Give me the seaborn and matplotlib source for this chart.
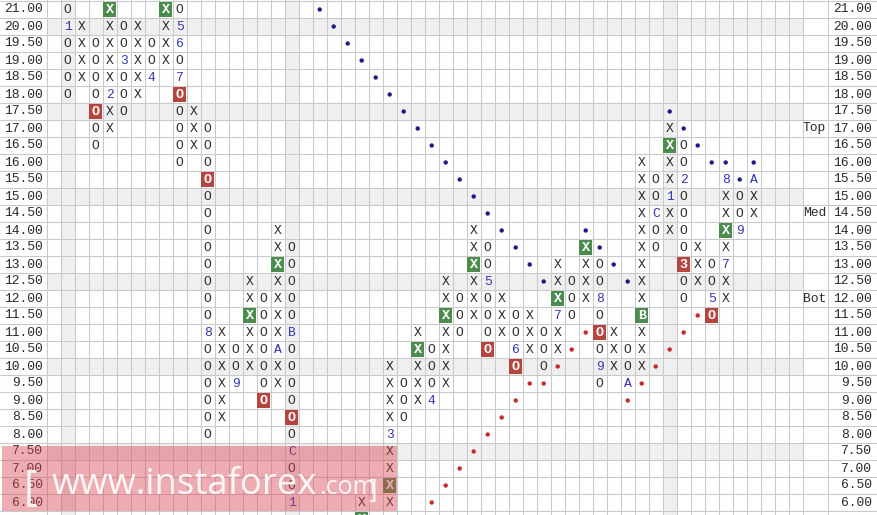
import matplotlib
matplotlib.use("Agg")
import matplotlib.pyplot as plt
import seaborn as sns
import pandas as pd
from matplotlib.patches import Rectangle

# ==========================================
# DATA  (point & figure chart)
# ==========================================

# price rows, top to bottom (last one is only partly visible)
prices = [21.0, 20.0, 19.5, 19.0, 18.5, 18.0, 17.5, 17.0, 16.5, 16.0,
          15.5, 15.0, 14.5, 14.0, 13.5, 13.0, 12.5, 12.0, 11.5, 11.0,
          10.5, 10.0, 9.5, 9.0, 8.5, 8.0, 7.5, 7.0, 6.5, 6.0, 5.5]

# each column: (column number, top price, symbols downward)
columns = [
    (1, 21.0, "O1OOOO"),
    (2, 20.0, "XXXX"),
    (3, 19.5, "OOOOOOO"),
    (4, 21.0, "XXXXX2XX"),
    (5, 20.0, "OO3OOO"),
    (6, 20.0, "XXXXX"),
    (7, 19.5, "OO4"),
    (8, 21.0, "XXXX"),
    (9, 21.0, "O56O7OOOOO"),
    (10, 17.5, "XXX"),
    (11, 17.0, "OOOOOOOOOOOO8OOOOOO"),
    (12, 11.0, "XXXXXX"),
    (13, 10.5, "OO9"),
    (14, 12.5, "XXXXXX"),
    (15, 12.0, "OOOOOOO"),
    (16, 14.0, "XXXXXXXAXX"),
    (17, 13.5, "OOOOOBOOOOOOCOO1"),
    (22, 6.0, "XX"),
    (24, 10.0, "XXXX3XXXX"),
    (25, 9.5, "OOO"),
    (26, 11.0, "XXXXX"),
    (27, 10.5, "OOO4"),
    (28, 12.5, "XXXXXXX"),
    (29, 12.0, "OOO"),
    (30, 14.0, "XXXXXX"),
    (31, 13.5, "OO5OOOO"),
    (32, 12.0, "XXX"),
    (33, 11.5, "OO6O"),
    (34, 11.5, "XXX"),
    (35, 11.0, "OOO"),
    (36, 13.0, "XXX7XX"),
    (37, 12.5, "OOO"),
    (38, 13.5, "XXXX"),
    (39, 13.0, "OO8OOO9O"),
    (40, 11.0, "XXX"),
    (41, 10.5, "OOA"),
    (42, 16.0, "XXXXXXXXXBXXX"),
    (43, 15.5, "OOCOO"),
    (44, 17.0, "XXXX1XX"),
    (45, 16.5, "OO2OOOO3OO"),
    (46, 13.5, "XXX"),
    (47, 13.0, "OO5O"),
    (48, 15.5, "8XXXX7XX"),
    (49, 15.0, "OO9"),
    (50, 15.5, "AXX"),
]

# highlighted boxes
green_cols = [4, 8, 14, 16, 22, 24, 26, 28, 30, 36, 38, 42, 44, 48]
green_prices = [21.0, 21.0, 11.5, 13.0, 5.5, 6.5, 10.5, 11.5, 13.0, 12.0, 13.5, 11.5, 16.5, 14.0]
red_cols = [3, 9, 11, 15, 17, 31, 33, 39, 45, 47]
red_prices = [17.5, 18.0, 15.5, 9.0, 8.5, 10.5, 10.0, 11.0, 13.0, 11.5]

# trend line dots
blue_dot_cols = [19, 20, 21, 22, 23, 24, 25, 26, 27, 28, 29, 30, 31, 32, 33, 34, 35,
                 38, 39, 40, 41, 44, 45, 46, 47, 48, 49, 50]
blue_dot_prices = [21.0, 20.0, 19.5, 19.0, 18.5, 18.0, 17.5, 17.0, 16.5, 16.0, 15.5,
                   15.0, 14.5, 14.0, 13.5, 13.0, 12.5,
                   14.0, 13.5, 13.0, 12.5, 17.5, 17.0, 16.5, 16.0, 16.0, 15.5, 16.0]
red_dot_cols = [27, 28, 29, 30, 31, 32, 33, 34, 35, 36, 37, 38, 41, 42, 43, 44, 45, 46]
red_dot_prices = [6.0, 6.5, 7.0, 7.5, 8.0, 8.5, 9.0, 9.5, 9.5, 10.0, 10.5, 11.0,
                  9.0, 9.5, 10.0, 10.5, 11.0, 11.5]

shaded_cols = [1, 17, 44]
shaded_prices = [20.0, 17.5, 15.0, 12.5, 10.0, 7.5]
level_labels = {"Top": 17.0, "Med": 14.5, "Bot": 12.0}

n_grid_cols = 54
n_rows = 30


# ==========================================
# LAYOUT HELPERS
# ==========================================

W, H = 877, 515
X0, CW = 46.7, 14.0      # grid left edge, cell width (px)
Y0, RH = 1.0, 17.0       # grid top edge, row height (px)


def row_of(p):
    return prices.index(p)


def px_col(px):
    return (px - X0) / CW - 0.5


def px_row(py):
    return (py - Y0) / RH - 0.5


sns.set_theme(style="white")
plt.rcParams["font.family"] = ["Liberation Mono", "DejaVu Sans Mono"]

fig = plt.figure(figsize=(W / 100, H / 100), dpi=100)
ax = fig.add_axes([0, 0, 1, 1])

grid_c = "#c9c9c9"
shade_c = "#efefef"
text_c = "#2a2a2a"

# shading
for p in shaded_prices:
    r = row_of(p)
    ax.add_patch(Rectangle((-0.5, r - 0.5), n_grid_cols, 1, color=shade_c, lw=0, zorder=0))
for c in shaded_cols:
    ax.add_patch(Rectangle((c - 0.5, px_row(0)), 1, px_row(H) - px_row(0),
                           color=shade_c, lw=0, zorder=0))

# grid
for k in range(n_grid_cols + 1):
    ax.axvline(k - 0.5, color=grid_c, lw=0.75, zorder=1)
ax.axvline(px_col(828.3), color=grid_c, lw=0.75, zorder=1)
for r in range(n_rows + 1):
    ax.axhline(r - 0.5, color=grid_c, lw=0.75, zorder=1)

# price labels
for i, p in enumerate(prices[:n_rows]):
    ax.text(px_col(43), i, f"{p:.2f}", ha="right", va="center", fontsize=9.4, color=text_c)
    ax.text(px_col(872), i, f"{p:.2f}", ha="right", va="center", fontsize=9.4, color=text_c)
for name, p in level_labels.items():
    ax.text(px_col(826), row_of(p), name, ha="right", va="center", fontsize=9.4, color=text_c)

# boxes
boxes = pd.DataFrame({
    "col": green_cols + red_cols,
    "price": green_prices + red_prices,
    "color": ["#4c8c4f"] * len(green_cols) + ["#b5463f"] * len(red_cols),
})
box_set = set(zip(boxes["col"], boxes["price"]))
for _, b in boxes.iterrows():
    r = row_of(b["price"])
    ax.add_patch(Rectangle((b["col"] - 0.46, r - 0.45), 0.92, 0.9,
                           color=b["color"], lw=0, zorder=2))

# symbols
for col, top, syms in columns:
    r0 = row_of(top)
    for j, s in enumerate(syms):
        r = r0 + j
        if r >= len(prices):
            continue
        if (col, prices[r]) in box_set:
            ax.text(col, r + 0.05, s, ha="center", va="center", fontsize=9.6,
                    fontweight="bold", color="white", zorder=3)
        elif s in "XO":
            ax.text(col, r + 0.05, s, ha="center", va="center", fontsize=9.4,
                    color=text_c, zorder=3)
        else:
            ax.text(col, r + 0.05, s, ha="center", va="center", fontsize=9.4,
                    color="#3434b4", zorder=3)

# trend dots
dots = pd.DataFrame({
    "col": blue_dot_cols + red_dot_cols,
    "row": [row_of(p) for p in blue_dot_prices + red_dot_prices],
    "kind": ["up"] * len(blue_dot_cols) + ["down"] * len(red_dot_cols),
})
sns.scatterplot(data=dots, x="col", y="row", hue="kind",
                palette={"up": "#1b1b8c", "down": "#c62a2a"},
                s=10, linewidth=0, legend=False, ax=ax, zorder=4)
ax.set_xlim(px_col(0), px_col(W))
ax.set_ylim(px_row(H), px_row(0))
ax.axis("off")

# watermark
wm_font = ["Open Sans", "DejaVu Sans"]
fig.patches.append(Rectangle((2 / W, (H - 511) / H), 395 / W, 65 / H,
                             transform=fig.transFigure, color="#d84a55",
                             alpha=0.45, lw=0, zorder=10))
fig.text(24 / W, (H - 499) / H, "[", fontsize=30, color="white",
         family=wm_font, alpha=0.9, zorder=11)
fig.text(52 / W, (H - 494) / H, "www.instaforex", fontsize=26.3, color="white",
         family=wm_font, alpha=0.9, zorder=11)
fig.text(319 / W, (H - 494) / H, ".com", fontsize=18, color="white",
         family=wm_font, alpha=0.9, zorder=11)
fig.text(368 / W, (H - 496) / H, "]", fontsize=19, color="white",
         family=wm_font, alpha=0.9, zorder=11)

fig.savefig("out.png", dpi=100)
